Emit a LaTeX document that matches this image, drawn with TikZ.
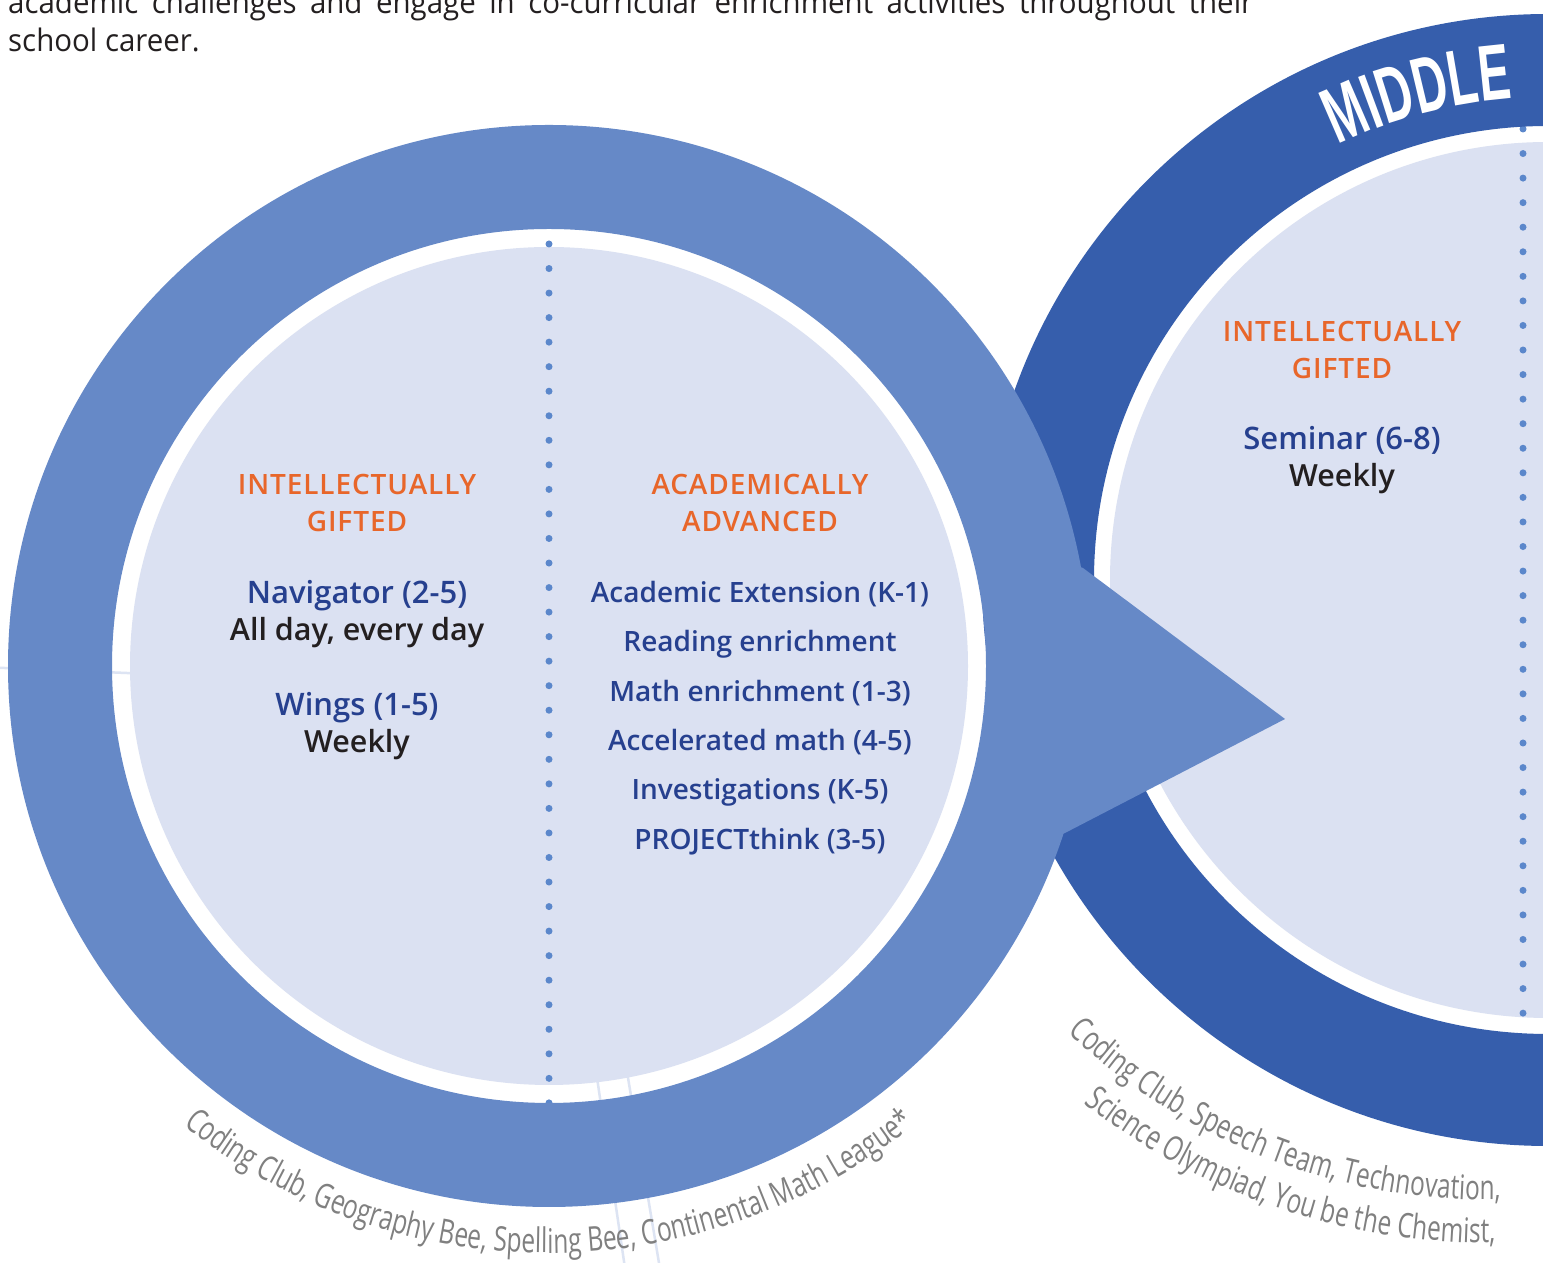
\documentclass[tikz,border=0pt]{standalone}
\usepackage{fontspec}
\IfFontExistsTF{Open Sans Semibold}{\def\seminame{Open Sans Semibold}}{\def\seminame{Open Sans Bold}}
\setmainfont{Open Sans}[BoldFont={\seminame}]
\newfontfamily\capsfont{Open Sans}[BoldFont={\seminame}, LetterSpace=3.2]
\newfontfamily\bodyfont{Open Sans}[FakeStretch=0.95]
\newfontfamily\curvefont{Open Sans}[FakeStretch=0.72]
\newfontfamily\middlefont{Liberation Sans}[FakeStretch=0.6]
\usetikzlibrary{decorations.text}

\definecolor{ringlight}{HTML}{6689C7}
\definecolor{ringdark}{HTML}{365EAC}
\definecolor{disc}{HTML}{DBE1F2}
\definecolor{dotblue}{HTML}{5B87CB}
\definecolor{hdorange}{HTML}{E8662A}
\definecolor{prognavy}{HTML}{26408F}
\definecolor{txtdark}{HTML}{231F20}
\definecolor{clubgray}{HTML}{808080}
\definecolor{faint}{HTML}{DDE4F3}

\tikzset{
  heading/.style={font=\capsfont\bfseries\fontsize{28}{30}\selectfont, text=hdorange, anchor=base, inner sep=0pt},
  prog/.style={font=\bfseries\fontsize{28}{30}\selectfont, text=prognavy, anchor=base, inner sep=0pt},
  bigprog/.style={prog, font=\bfseries\fontsize{31}{33}\selectfont},
  sched/.style={font=\bfseries\fontsize{30.5}{33}\selectfont, text=txtdark, anchor=base, inner sep=0pt},
  intro/.style={font=\bodyfont\fontsize{31}{38}\selectfont, text=txtdark, anchor=base west, inner sep=0pt},
  clubs/.style={decorate, decoration={text along path, text align=#1}},
}
\newcommand{\clubfont}{\curvefont\fontsize{34}{34}\selectfont\color{clubgray}}

\begin{document}
\begin{tikzpicture}[x=1pt,y=1pt]
  \useasboundingbox (0,0) rectangle (1543,1263);
  \fill[white] (0,0) rectangle (1543,1263);
  \coordinate (L) at (549,597);
  \coordinate (R) at (1548,683);
  \coordinate (T) at (1490,680);

  % intro paragraph (cut at the top)
  \node[intro] (intro1) at (8,1249) {\makebox[1245pt][s]{academic challenges and engage in co-curricular enrichment activities throughout their}};
  \node[intro] (intro2) at (8,1211) {school career.};

  % faint lines behind
  \draw[faint,line width=2.5pt] (-20,596) -- (200,587);
  \draw[faint,line width=2.5pt] (590,233) -- (626,-12);
  \draw[faint,line width=2.5pt] (620,233) -- (661,-12);

  % Middle school (dark ring)
  \fill[disc] (R) circle[radius=438pt];
  \foreach \i in {0,...,36}
    \fill[dotblue] (1523,{1134-24.56*\i}) circle[radius=3.5pt];
  \fill[ringdark,even odd rule] (R) circle[radius=566pt] (R) circle[radius=454pt];
  \path[decorate,decoration={text along path,text align=center,
    text={|\middlefont\bfseries\fontsize{79}{79}\selectfont\color{white}|MIDDLE}}]
    ([shift={(125:483pt)}]R) arc[start angle=125,end angle=85,radius=483pt];

  \node[heading] (igM1) at (1342,921) {INTELLECTUALLY};
  \node[heading] (igM2) at (1342,884) {GIFTED};
  \node[bigprog] (seminar) at (1342,813) {Seminar (6-8)};
  \node[sched] (seminarW) at (1342,776) {Weekly};

  % Elementary (light ring with pointer)
  \fill[disc] (L) circle[radius=419pt];
  \foreach \i in {0,...,35}
    \fill[dotblue] (549,{1019-24.54*\i}) circle[radius=3.5pt];
  \fill[ringlight,even odd rule] (L) circle[radius=541pt] (L) circle[radius=437pt];
  \fill[ringlight] (1000,723) -- (1083,695) -- (1285,544) -- (1065,430) -- (1000,403) -- cycle;

  \node[heading] (igE1) at (357,768) {INTELLECTUALLY};
  \node[heading] (igE2) at (357,731) {GIFTED};
  \node[bigprog] (navigator) at (357,659) {Navigator (2-5)};
  \node[sched] (navigatorW) at (357,622) {All day, every day};
  \node[bigprog] (wings) at (357,547) {Wings (1-5)};
  \node[sched] (wingsW) at (357,510) {Weekly};

  \node[heading] (aaE1) at (760,768) {ACADEMICALLY};
  \node[heading] (aaE2) at (760,731) {ADVANCED};
  \node[prog] (extension) at (760,660) {Academic Extension (K-1)};
  \node[prog] (reading) at (760,611) {Reading enrichment};
  \node[prog] (math) at (760,561) {Math enrichment (1-3)};
  \node[prog] (accel) at (760,512) {Accelerated math (4-5)};
  \node[prog] (invest) at (760,463) {Investigations (K-5)};
  \node[prog] (project) at (760,413) {PROJECTthink (3-5)};

  % clubs round the rings
  \path[clubs=center,decoration={text={|\clubfont|Coding Club, Geography Bee, Spelling Bee, Continental Math League*}}]
    ([shift={(225:587pt)}]L) arc[start angle=225,end angle=315,radius=587pt];
  \path[clubs=left,decoration={text={|\clubfont|Coding Club, Speech Team, Technovation,}}]
    ([shift={(226.8:617pt)}]T) arc[start angle=226.8,end angle=300,radius=617pt];
  \path[clubs=left,decoration={text={|\clubfont|Science Olympiad, You be the Chemist,}}]
    ([shift={(232:660pt)}]T) arc[start angle=232,end angle=300,radius=660pt];
\end{tikzpicture}
\end{document}
